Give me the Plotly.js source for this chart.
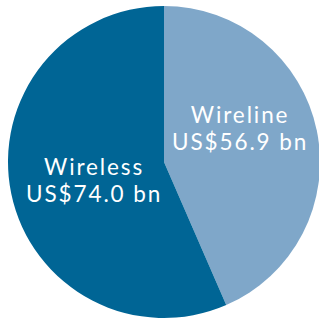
<!DOCTYPE html>
<html><head><meta charset="utf-8">
<script src="https://cdn.plot.ly/plotly-3.0.1.min.js"></script>
<style>html,body{margin:0;padding:0;overflow:hidden;background:#fff;}
.annotation-text{letter-spacing:1.9px;}</style>
</head><body><div id="chart"></div>
<script>
const labels = ["Wireline", "Wireless"];
const values = [56.9, 74.0];
const colors = ["#7fa7c9", "#006595"];
const valueLabels = values.map(v => "US$" + v.toFixed(1) + " bn");

// label placement (pixel centres in the 319x320 frame)
const L = 8, T = 6, S = 312;
const labelPos = [{x: 240, y: 128}, {x: 94, y: 180}];
const px = x => (x - L) / S;
const py = y => 1 - (y - T) / S;
const span = t => '<span style="font-size:22.5px">' + t + '</span>';
const annotations = labels.map((lab, i) => ({
  xref: "paper", yref: "paper", x: px(labelPos[i].x), y: py(labelPos[i].y),
  xanchor: "center", yanchor: "middle", align: "center",
  text: span(lab) + "<br>" + span(valueLabels[i]),
  showarrow: false,
  font: {family: "Lato", size: 20.8, color: "#ffffff"}
}));

Plotly.newPlot("chart", [{
  type: "pie",
  labels: labels,
  values: values,
  sort: false,
  direction: "clockwise",
  rotation: 0,
  marker: {colors: colors, line: {width: 0}},
  textinfo: "none",
  hoverinfo: "none"
}], {
  width: 328, height: 324,
  margin: {l: L, r: 8, t: T, b: 6},
  showlegend: false,
  paper_bgcolor: "#ffffff",
  annotations: annotations
}, {displayModeBar: false, staticPlot: true});
</script></body></html>
